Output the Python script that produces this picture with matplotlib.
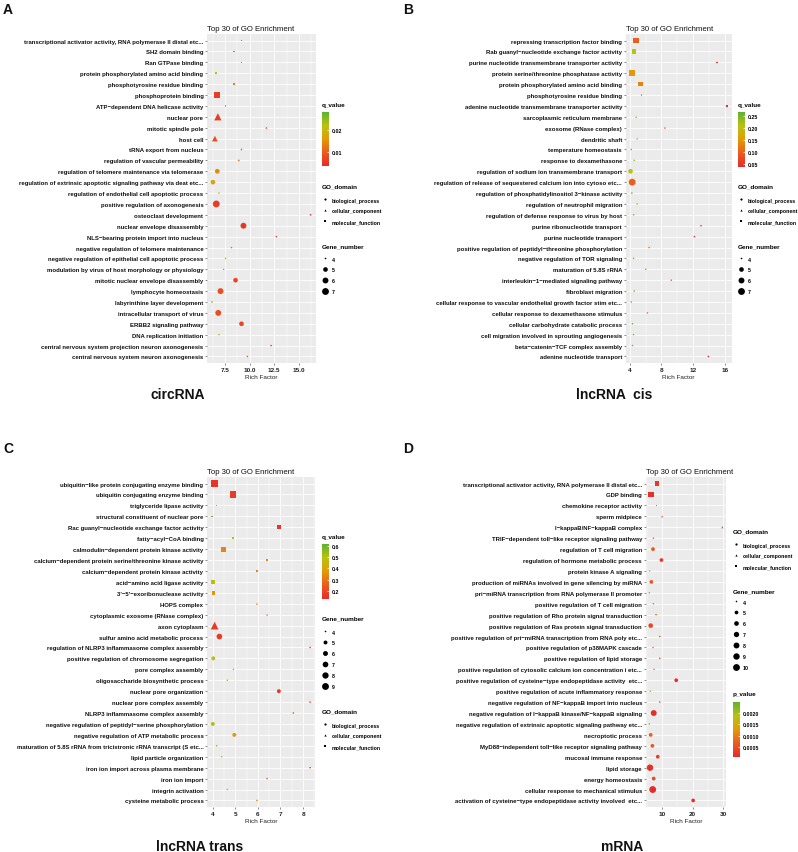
import numpy as np
import matplotlib
matplotlib.use("Agg")
import matplotlib.pyplot as plt
from matplotlib.colors import LinearSegmentedColormap, Normalize
from matplotlib.cm import ScalarMappable
from matplotlib.lines import Line2D
from matplotlib.ticker import AutoMinorLocator

W, H, DPI = 798, 853, 100
NARROW = ["Liberation Sans Narrow", "Liberation Sans", "DejaVu Sans"]
BOLD = ["Liberation Sans", "DejaVu Sans"]
plt.rcParams["font.family"] = NARROW
plt.rcParams["font.weight"] = "bold"

M = "\u2212"  # ggplot renders hyphens as minus signs

DOMAIN_MARKER = {"BP": "o", "CC": "^", "MF": "s"}
DOMAIN_NAMES = ["biological_process", "cellular_component", "molecular_function"]
CMAP = LinearSegmentedColormap.from_list(
    "rg", ["#E62A2A", "#EC5A1E", "#E49A06", "#B9C20F", "#5DB230"])

# ---------------- A: circRNA ----------------
terms_a = [
    "transcriptional activator activity, RNA polymerase II distal etc...",
    "SH2 domain binding", "Ran GTPase binding",
    "protein phosphorylated amino acid binding", "phosphotyrosine residue binding",
    "phosphoprotein binding", f"ATP{M}dependent DNA helicase activity",
    "nuclear pore", "mitotic spindle pole", "host cell",
    "tRNA export from nucleus", "regulation of vascular permeability",
    "regulation of telomere maintenance via telomerase",
    "regulation of extrinsic apoptotic signaling pathway via deat etc...",
    "regulation of endothelial cell apoptotic process",
    "positive regulation of axonogenesis", "osteoclast development",
    "nuclear envelope disassembly", f"NLS{M}bearing protein import into nucleus",
    "negative regulation of telomere maintenance",
    "negative regulation of epithelial cell apoptotic process",
    "modulation by virus of host morphology or physiology",
    "mitotic nuclear envelope disassembly", "lymphocyte homeostasis",
    "labyrinthine layer development", "intracellular transport of virus",
    "ERBB2 signaling pathway", "DNA replication initiation",
    "central nervous system projection neuron axonogenesis",
    "central nervous system neuron axonogenesis",
]
rich_a = [9.18, 8.41, 9.18, 6.59, 8.41, 6.73, 7.57, 6.79, 11.7, 6.49,
          9.18, 8.91, 6.73, 6.29, 6.9, 6.63, 16.17, 9.38, 12.7, 8.17,
          7.57, 7.37, 8.58, 7.06, 6.19, 6.83, 9.18, 6.9, 12.17, 9.78]
gene_a = [4, 4, 4, 4, 4, 6, 4, 6, 4, 5, 4, 4, 5, 5, 4, 7, 4, 6, 4, 4,
          4, 4, 5, 6, 4, 6, 5, 4, 4, 4]
domain_a = ["MF"] * 7 + ["CC"] * 3 + ["BP"] * 20
q_a = [0.011, 0.012, 0.011, 0.022, 0.013, 0.006, 0.018, 0.006, 0.007, 0.008,
       0.011, 0.011, 0.014, 0.017, 0.021, 0.006, 0.004, 0.005, 0.007, 0.012,
       0.018, 0.019, 0.007, 0.008, 0.026, 0.008, 0.007, 0.021, 0.007, 0.011]

# ---------------- B: lncRNA cis ----------------
terms_b = [
    "repressing transcription factor binding",
    f"Rab guanyl{M}nucleotide exchange factor activity",
    "purine nucleotide transmembrane transporter activity",
    "protein serine/threonine phosphatase activity",
    "protein phosphorylated amino acid binding", "phosphotyrosine residue binding",
    "adenine nucleotide transmembrane transporter activity",
    "sarcoplasmic reticulum membrane", "exosome (RNase complex)", "dendritic shaft",
    "temperature homeostasis", "response to dexamethasone",
    "regulation of sodium ion transmembrane transport",
    "regulation of release of sequestered calcium ion into cytoso etc...",
    f"regulation of phosphatidylinositol 3{M}kinase activity",
    "regulation of neutrophil migration",
    "regulation of defense response to virus by host",
    "purine ribonucleotide transport", "purine nucleotide transport",
    f"positive regulation of peptidyl{M}threonine phosphorylation",
    "negative regulation of TOR signaling", "maturation of 5.8S rRNA",
    f"interleukin{M}1{M}mediated signaling pathway", "fibroblast migration",
    "cellular response to vascular endothelial growth factor stim etc...",
    "cellular response to dexamethasone stimulus",
    "cellular carbohydrate catabolic process",
    "cell migration involved in sprouting angiogenesis",
    f"beta{M}catenin{M}TCF complex assembly", "adenine nucleotide transport",
]
rich_b = [4.79, 4.54, 14.95, 4.29, 5.37, 5.49, 16.2, 4.83, 8.44, 4.95,
          4.21, 4.58, 4.12, 4.33, 4.29, 4.95, 4.5, 12.96, 12.13, 6.45,
          4.5, 6.03, 9.23, 4.58, 4.21, 6.24, 4.37, 4.5, 4.37, 13.88]
gene_b = [6, 5, 4, 6, 5, 4, 4, 4, 4, 4, 4, 4, 5, 7, 4, 4, 4, 4, 4, 4,
          4, 4, 4, 4, 4, 4, 4, 4, 4, 4]
domain_b = ["MF"] * 7 + ["CC"] * 3 + ["BP"] * 20
q_b = [0.10, 0.21, 0.045, 0.15, 0.13, 0.22, 0.04, 0.23, 0.10, 0.22,
       0.25, 0.23, 0.21, 0.10, 0.25, 0.22, 0.24, 0.06, 0.045, 0.12,
       0.24, 0.14, 0.11, 0.24, 0.25, 0.13, 0.25, 0.24, 0.24, 0.045]

# ---------------- C: lncRNA trans ----------------
terms_c = [
    f"ubiquitin{M}like protein conjugating enzyme binding",
    "ubiquitin conjugating enzyme binding", "triglyceride lipase activity",
    "structural constituent of nuclear pore",
    f"Rac guanyl{M}nucleotide exchange factor activity",
    f"fatty{M}acyl{M}CoA binding",
    f"calmodulin{M}dependent protein kinase activity",
    f"calcium{M}dependent protein serine/threonine kinase activity",
    f"calcium{M}dependent protein kinase activity",
    f"acid{M}amino acid ligase activity", f"3'{M}5'{M}exoribonuclease activity",
    "HOPS complex", "cytoplasmic exosome (RNase complex)", "axon cytoplasm",
    "sulfur amino acid metabolic process",
    "regulation of NLRP3 inflammasome complex assembly",
    "positive regulation of chromosome segregation", "pore complex assembly",
    "oligosaccharide biosynthetic process", "nuclear pore organization",
    "nuclear pore complex assembly", "NLRP3 inflammasome complex assembly",
    f"negative regulation of peptidyl{M}serine phosphorylation",
    "negative regulation of ATP metabolic process",
    "maturation of 5.8S rRNA from tricistronic rRNA transcript (S etc...",
    "lipid particle organization", "iron ion import across plasma membrane",
    "iron ion import", "integrin activation", "cysteine metabolic process",
]
rich_c = [4.09, 4.9, 4.18, 3.97, 6.93, 4.9, 4.47, 6.41, 5.96, 4.01,
          4.04, 5.96, 6.41, 4.09, 4.3, 8.31, 4.03, 4.92, 4.65, 6.93,
          8.31, 7.57, 4.01, 4.96, 4.18, 4.4, 8.31, 6.41, 4.65, 5.96]
gene_c = [9, 8, 4, 4, 5, 4, 6, 4, 4, 5, 5, 4, 4, 8, 7, 4, 5, 4, 4, 5,
          4, 4, 5, 5, 4, 4, 4, 4, 4, 4]
domain_c = ["MF"] * 11 + ["CC"] * 3 + ["BP"] * 16
q_c = [0.16, 0.17, 0.55, 0.58, 0.16, 0.50, 0.33, 0.33, 0.33, 0.48,
       0.36, 0.33, 0.33, 0.17, 0.17, 0.20, 0.47, 0.48, 0.48, 0.17,
       0.20, 0.25, 0.47, 0.38, 0.53, 0.47, 0.18, 0.25, 0.48, 0.33]

# ---------------- D: mRNA ----------------
terms_d = [
    "transcriptional activator activity, RNA polymerase II distal etc...",
    "GDP binding", "chemokine receptor activity", "sperm midpiece",
    f"I{M}kappaB/NF{M}kappaB complex",
    f"TRIF{M}dependent toll{M}like receptor signaling pathway",
    "regulation of T cell migration", "regulation of hormone metabolic process",
    "protein kinase A signaling",
    "production of miRNAs involved in gene silencing by miRNA",
    f"pri{M}miRNA transcription from RNA polymerase II promoter",
    "positive regulation of T cell migration",
    "positive regulation of Rho protein signal transduction",
    "positive regulation of Ras protein signal transduction",
    f"positive regulation of pri{M}miRNA transcription from RNA poly etc...",
    "positive regulation of p38MAPK cascade",
    "positive regulation of lipid storage",
    "positive regulation of cytosolic calcium ion concentration i etc...",
    f"positive regulation of cysteine{M}type endopeptidase activity  etc...",
    "positive regulation of acute inflammatory response",
    f"negative regulation of NF{M}kappaB import into nucleus",
    f"negative regulation of I{M}kappaB kinase/NF{M}kappaB signaling",
    "negative regulation of extrinsic apoptotic signaling pathway etc...",
    "necroptotic process",
    f"MyD88{M}independent toll{M}like receptor signaling pathway",
    "mucosal immune response", "lipid storage", "energy homeostasis",
    "cellular response to mechanical stimulus",
    f"activation of cysteine{M}type endopeptidase activity involved  etc...",
]
rich_d = [8.34, 6.35, 8.12, 10.0, 29.8, 7.13, 7.0, 9.78, 5.9, 6.46,
          5.8, 7.13, 8.0, 6.24, 9.23, 7.0, 9.23, 7.35, 14.64, 6.13,
          9.23, 7.24, 5.8, 6.24, 6.8, 8.56, 6.02, 7.24, 6.9, 20.2]
gene_d = [6, 8, 4, 4, 4, 4, 5, 5, 4, 5, 4, 4, 4, 6, 4, 4, 4, 4, 5, 4,
          4, 8, 4, 5, 5, 5, 9, 5, 10, 5]
domain_d = ["MF"] * 3 + ["CC"] * 2 + ["BP"] * 25
p_d = [0.0002, 0.0001, 0.0008, 0.0005, 0.0001, 0.0009, 0.0006, 0.0002, 0.0019, 0.0006,
       0.0022, 0.0010, 0.0007, 0.0004, 0.0007, 0.0011, 0.0007, 0.0011, 0.0001, 0.0019,
       0.0007, 0.0001, 0.0022, 0.0007, 0.0006, 0.0003, 0.0001, 0.0004, 0.00005, 0.0001]

LEG_FS = 3.8
ROW_PX = 11.0


fig = plt.figure(figsize=(W / DPI, H / DPI), dpi=DPI)


def fx(px):
    return px / W


def fy(py):
    return 1 - py / H


def axes_px(left, top, right, bottom):
    return fig.add_axes([fx(left), fy(bottom), (right - left) / W, (bottom - top) / H])


def diam_px(genes, gmin, gmax):
    # ggplot2 scale_size: area proportional, range 1..6
    r = (np.asarray(genes, float) - gmin) / (gmax - gmin)
    size = 1 + 5 * np.sqrt(r)
    return 1.6 + (size - 1) * 1.05


def draw_panel(box, terms, rich, genes, domains, cvals, norm, xticks, xticklabels, grange):
    ax = axes_px(*box)
    ax.set_facecolor("#EBEBEB")
    n = len(terms)
    ypos = np.arange(n, 0, -1)
    rich = np.asarray(rich)
    area = (diam_px(genes, *grange) * 72 / DPI) ** 2
    cols = CMAP(norm(np.asarray(cvals)))
    doms = np.asarray(domains)
    for code, mk in DOMAIN_MARKER.items():
        m = doms == code
        if m.any():
            k = 1.5 if mk == "^" else 1.0
            ax.scatter(rich[m], ypos[m], s=area[m] * k, c=cols[m], marker=mk,
                       linewidths=0, zorder=3)
    pad = (rich.max() - rich.min()) * 0.05
    ax.set_xlim(rich.min() - pad, rich.max() + pad)
    ax.set_ylim(0.4, n + 0.6)
    ax.set_yticks(ypos)
    ax.set_yticklabels(terms, fontsize=4.35, color="#111111")
    ax.set_xticks(xticks)
    ax.set_xticklabels(xticklabels, fontsize=4.6, color="#222222")
    ax.xaxis.set_minor_locator(AutoMinorLocator(2))
    ax.grid(which="major", color="white", linewidth=0.6)
    ax.grid(which="minor", axis="x", color="white", linewidth=0.3)
    ax.set_axisbelow(True)
    for s in ax.spines.values():
        s.set_visible(False)
    ax.tick_params(which="major", length=1.6, width=0.4, color="#333333", pad=1)
    ax.tick_params(which="minor", length=0)
    ax.set_xlabel("Rich Factor", fontsize=4.6, labelpad=2, color="#222222")
    ax.set_title("Top 30 of GO Enrichment", loc="left", fontsize=5.6, pad=3,
                 color="#111111")
    return ax


def colorbar(box, norm, ticks, labels, title):
    cax = axes_px(*box)
    cb = fig.colorbar(ScalarMappable(norm=norm, cmap=CMAP), cax=cax)
    cb.outline.set_visible(False)
    cb.set_ticks(ticks)
    cb.set_ticklabels(labels)
    cax.tick_params(labelsize=LEG_FS, length=1.5, width=0.5, color="white",
                    direction="in", pad=2)
    fig.text(fx(box[0]), fy(box[1] - 8), title, fontsize=4.6, va="center", ha="left")


def key_legend(handles, labels, x, first_y):
    fig.legend(handles, labels, loc="upper left",
               bbox_to_anchor=(fx(x), fy(first_y - LEG_FS * DPI / 72 / 2)),
               frameon=False, fontsize=LEG_FS, borderpad=0, borderaxespad=0,
               handlelength=1.15, handleheight=1.0, handletextpad=0.7,
               labelspacing=ROW_PX * 72 / DPI / LEG_FS - 1.0)


def domain_legend(x, title_y, first_y):
    fig.text(fx(x), fy(title_y), "GO_domain", fontsize=4.6, va="center", ha="left")
    handles = [Line2D([], [], ls="", marker=DOMAIN_MARKER[c], color="black",
                      markersize=1.6, markeredgewidth=0) for c in ("BP", "CC", "MF")]
    key_legend(handles, DOMAIN_NAMES, x, first_y)


def gene_legend(x, title_y, first_y, grange):
    fig.text(fx(x), fy(title_y), "Gene_number", fontsize=4.6, va="center", ha="left")
    vals = np.arange(grange[0], grange[1] + 1)
    d = diam_px(vals, *grange)
    handles = [Line2D([], [], ls="", marker="o", color="black",
                      markersize=di * 72 / DPI, markeredgewidth=0) for di in d]
    key_legend(handles, [str(v) for v in vals], x, first_y)


# panel A
draw_panel((207, 35, 315.5, 364), terms_a, rich_a, gene_a, domain_a, q_a,
           Normalize(0.0036, 0.028), [7.5, 10, 12.5, 15],
           ["7.5", "10.0", "12.5", "15.0"], (4, 7))
colorbar((322, 113, 329, 167), Normalize(0.0036, 0.028), [0.01, 0.02],
         ["0.01", "0.02"], "q_value")
domain_legend(322, 187, 201)
gene_legend(322, 247, 260, (4, 7))

# panel B
draw_panel((625.7, 35, 731.7, 364), terms_b, rich_b, gene_b, domain_b, q_b,
           Normalize(0.038, 0.267), [4, 8, 12, 16], ["4", "8", "12", "16"], (4, 7))
colorbar((738, 113, 745, 168), Normalize(0.038, 0.267),
         [0.05, 0.10, 0.15, 0.20, 0.25], ["0.05", "0.10", "0.15", "0.20", "0.25"],
         "q_value")
domain_legend(738, 187, 201)
gene_legend(738, 247, 260, (4, 7))

# panel C
draw_panel((207, 478, 315, 808), terms_c, rich_c, gene_c, domain_c, q_c,
           Normalize(0.13, 0.615), [4, 5, 6, 7, 8], ["4", "5", "6", "7", "8"], (4, 9))
colorbar((322, 545, 329, 600), Normalize(0.13, 0.615),
         [0.2, 0.3, 0.4, 0.5, 0.6], ["0.2", "0.3", "0.4", "0.5", "0.6"], "q_value")
gene_legend(322, 619, 633, (4, 9))
domain_legend(322, 712, 726)

# panel D
draw_panel((645.7, 478, 726, 808), terms_d, rich_d, gene_d, domain_d, p_d,
           Normalize(0.00004, 0.0025), [10, 20, 30], ["10", "20", "30"], (4, 10))
domain_legend(733, 532, 546)
gene_legend(733, 592, 603, (4, 10))
colorbar((733, 703, 740, 758), Normalize(0.00004, 0.0025),
         [0.0005, 0.0010, 0.0015, 0.0020], ["0.0005", "0.0010", "0.0015", "0.0020"],
         "p_value")

# panel letters and captions
for letter, x, y in [("A", 3, 10), ("B", 403, 10), ("C", 3, 449), ("D", 403, 449)]:
    fig.text(fx(x), fy(y), letter, fontsize=10, fontweight="bold", family=BOLD,
             va="center", ha="left", color="#111111")
for cap, x, y in [("circRNA", 178, 395), ("lncRNA  cis", 614, 395),
                  ("lncRNA trans", 200, 847), ("mRNA", 622, 847)]:
    fig.text(fx(x), fy(y), cap, fontsize=10, fontweight="bold", family=BOLD,
             va="center", ha="center", color="#111111")

fig.savefig("out.png", dpi=DPI)
